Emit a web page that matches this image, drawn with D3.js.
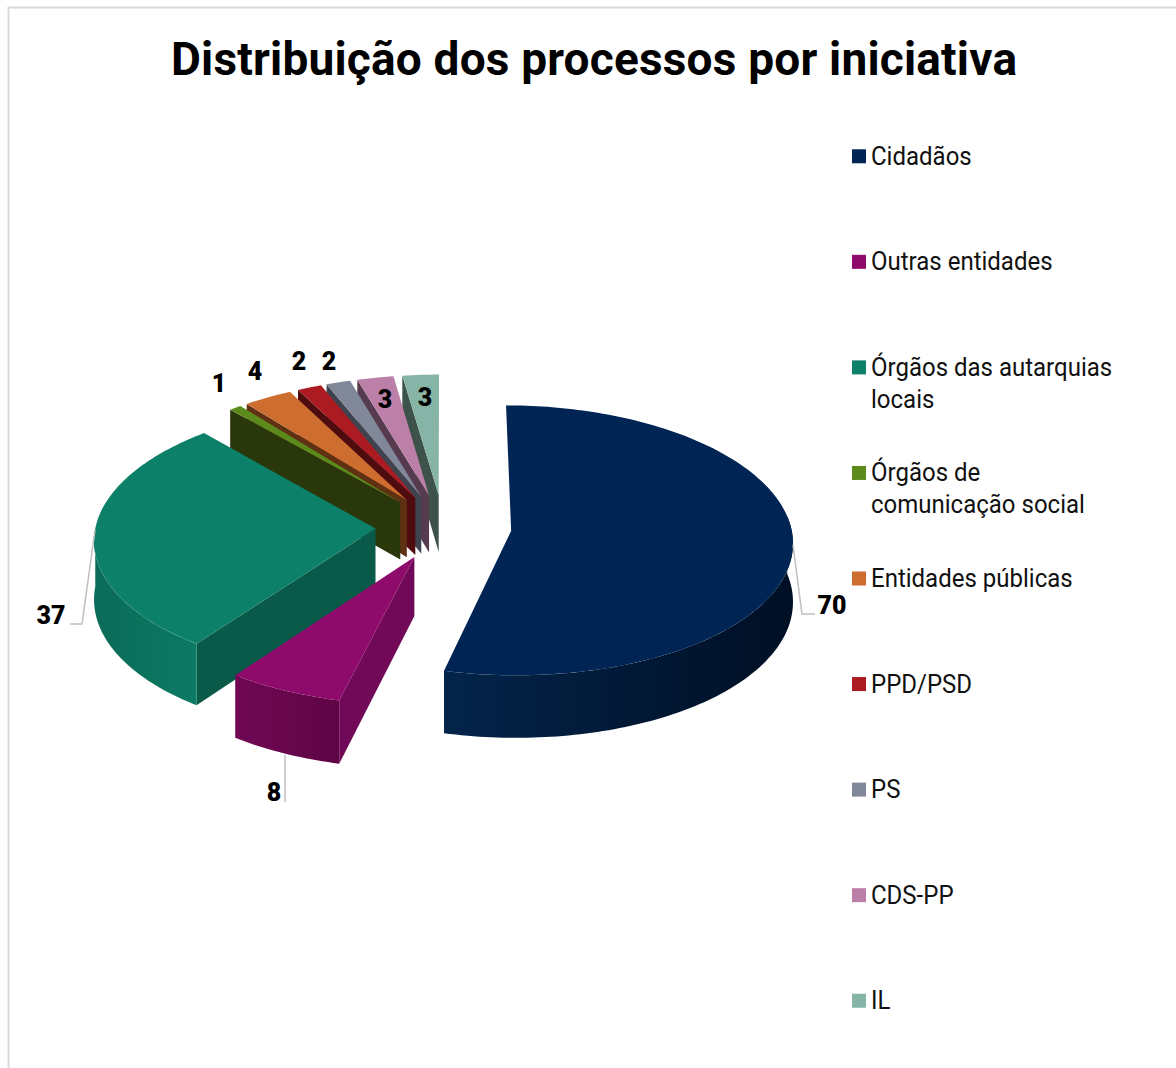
<!DOCTYPE html>
<html><head><meta charset="utf-8">
<script src="https://cdn.jsdelivr.net/npm/d3@7"></script>
<style>html,body{margin:0;padding:0;background:#fff;overflow:hidden}svg{display:block}</style>
</head><body><svg id="c" width="1176" height="1068"></svg>
<script>
const titleText = "Distribuição dos processos por iniciativa";
const categories = ["Cidadãos","Outras entidades","Órgãos das autarquias locais","Órgãos de comunicação social","Entidades públicas","PPD/PSD","PS","CDS-PP","IL"];
const values = [70,8,37,1,4,2,2,3,3];
const topColors = ["#002554","#8e0a6b","#0d8069","#5c8a1c","#cd6d2f","#ac1a22","#80889a","#bc7fa8","#86b4a6"];
const cutColors = ["#001a3a","#720858","#0a5a4a","#29370b","#5e3113","#4f0c0f","#3f434e","#563a4e","#3d5249"];
const wallLeft  = ["#03244a","#700854","#0a6b58","#29370b","#5e3113","#4f0c0f","#3f434e","#563a4e","#3d5249"];
const wallRight = ["#000f24","#5e0444","#0c7a64","#29370b","#5e3113","#4f0c0f","#3f434e","#563a4e","#3d5249"];
const labelPlaces = [[832,605],[274,792],[51,615],[219,383],[255,371],[299,361],[329,361],[385,399],[425,397]];
const leaders = [[[793,545],[802,614],[815,614]],[[285,755],[285,802]],[[95,530],[82,624],[70,624]]];

const svg = d3.select("#c");
const defs = svg.append("defs");
const W=1176,H=1068;
// frame
svg.append("path").attr("d",`M8.5,${H}V7.5H${W}`).attr("fill","none").attr("stroke","#d9d9d9").attr("stroke-width",2);
// title
svg.append("text").attr("x",594).attr("y",75).attr("text-anchor","middle")
  .attr("font-family","Roboto").attr("font-weight",700).attr("font-size",46).attr("fill","#000")
  .attr("textLength",846).attr("lengthAdjust","spacing").text(titleText);

// projection of the ground plane
const cx=443.5, cy=527, R=280, explode=68, depth=58;
const zToY = z => cy + 0.48*z + 0.00012*z*z;
const sc = z => 1 + 0.00027*z;
const project = (X,Z,h=0)=>[cx + X*sc(Z), zToY(Z) + h*sc(Z)];
const line = d3.line();

const arcs = d3.pie().sort(null).value(d=>d)(values);
const slices = arcs.map((a,i)=>{
  const mid=(a.startAngle+a.endAngle)/2;
  return {i,a,ox:explode*Math.sin(mid),oz:-explode*Math.cos(mid)};
});
const ptAt=(s,ang,r,h)=>project(s.ox+r*Math.sin(ang),s.oz-r*Math.cos(ang),h);
const rimAngles=(a0,a1)=>{const n=Math.max(2,Math.ceil((a1-a0)/0.02));return d3.range(n+1).map(k=>a0+(a1-a0)*k/n);};

const g=svg.append("g");
[...slices].reverse().forEach(s=>{
  const {a,i}=s;
  const grad=defs.append("linearGradient").attr("id","w"+i).attr("x1",0).attr("x2",1).attr("y1",0).attr("y2",0);
  grad.append("stop").attr("offset","0%").attr("stop-color",wallLeft[i]);
  grad.append("stop").attr("offset","100%").attr("stop-color",wallRight[i]);
  // cut face visible when it faces the viewer
  if(Math.sin(a.startAngle)<-1e-6){
    const pts=[ptAt(s,0,0,0),ptAt(s,a.startAngle,R,0),ptAt(s,a.startAngle,R,depth),ptAt(s,0,0,depth)];
    g.append("path").attr("d",line(pts)+"Z").attr("fill",cutColors[i]);
  }
  // outer wall on the front half
  const w0=Math.max(a.startAngle,Math.PI/2*0.93), w1=Math.min(a.endAngle,Math.PI*1.5);
  if(w1>w0){
    const angs=rimAngles(w0,w1);
    const pts=angs.map(t=>ptAt(s,t,R,0)).concat(angs.slice().reverse().map(t=>ptAt(s,t,R,depth)));
    g.append("path").attr("d",line(pts)+"Z").attr("fill",`url(#w${i})`);
  }
  // top surface
  const pts=[ptAt(s,0,0,0)].concat(rimAngles(a.startAngle,a.endAngle).map(t=>ptAt(s,t,R,0)));
  g.append("path").attr("d",line(pts)+"Z").attr("fill",topColors[i]);
});

// leaders
svg.append("g").selectAll("path").data(leaders).join("path")
  .attr("d",d=>line(d)).attr("fill","none").attr("stroke","#bfbfbf").attr("stroke-width",1.5);
// data labels
svg.append("g").selectAll("text").data(values).join("text")
  .attr("x",(d,i)=>labelPlaces[i][0]).attr("y",(d,i)=>labelPlaces[i][1]+9)
  .attr("text-anchor","middle").attr("font-family","Roboto").attr("font-weight",900).attr("font-size",25).attr("fill","#000")
  .text(d=>d);

// legend
const rowY=d3.scaleBand().domain(categories).range([103,1053]);
const squeeze=0.96;
const leg=svg.append("g").selectAll("g").data(categories).join("g");
leg.append("rect").attr("x",852).attr("y",d=>rowY(d)+rowY.bandwidth()/2-6.5).attr("width",14).attr("height",14).attr("fill",(d,i)=>topColors[i]);
leg.each(function(d){
  const host=d3.select(this);
  const y=rowY(d)+rowY.bandwidth()/2+9;
  const mk=(txt,n)=>host.append("text").attr("font-family","Roboto").attr("font-size",25).attr("fill","#111")
     .attr("x",871).attr("y",y+32*n).text(txt);
  const probe=mk("",0);
  const lines=[];let cur="";
  d.split(" ").forEach(word=>{
    const trial=cur?cur+" "+word:word;
    probe.text(trial);
    if(probe.node().getComputedTextLength()>262&&cur){lines.push(cur);cur=word;} else cur=trial;
  });
  lines.push(cur);probe.remove();
  lines.forEach((l,n)=>{
    const t=mk(l,n);
    const w=t.node().getComputedTextLength();
    t.attr("textLength",w*squeeze).attr("lengthAdjust","spacingAndGlyphs");
  });
});
</script></body></html>
